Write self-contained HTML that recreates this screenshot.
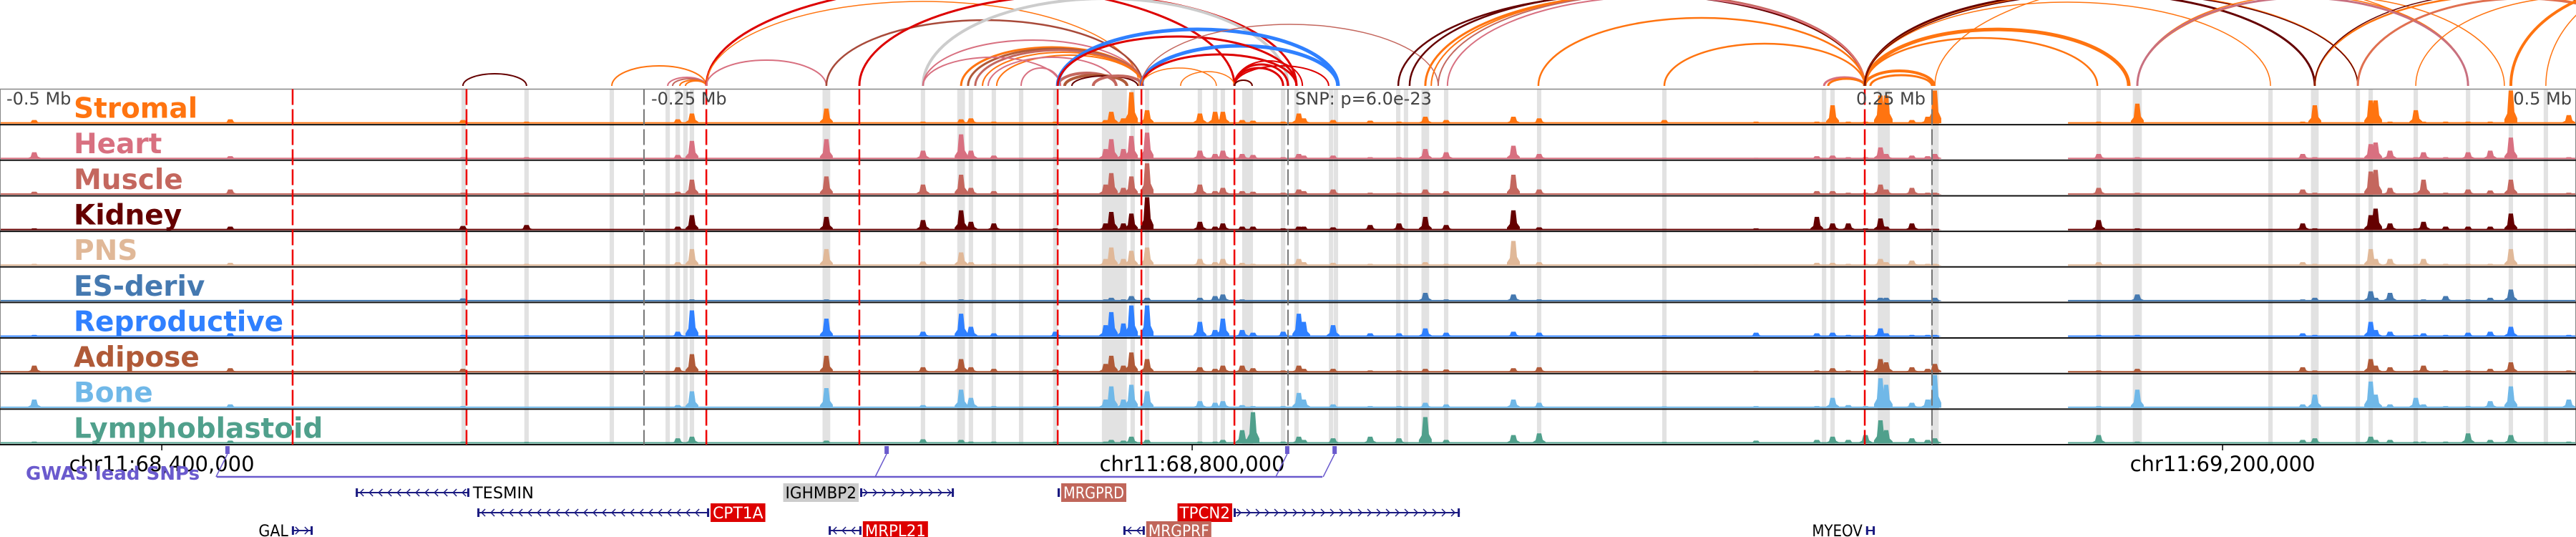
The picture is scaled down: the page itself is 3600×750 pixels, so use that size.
<!DOCTYPE html>
<html><head><meta charset="utf-8"><style>
html,body{margin:0;padding:0;background:#fff;}
svg{display:block;font-family:"DejaVu Sans","Liberation Sans",sans-serif;}
</style></head><body>
<svg id="chart" width="3600" height="750" viewBox="0 0 3600 750" xmlns="http://www.w3.org/2000/svg">
<defs><clipPath id="arcclip"><rect x="0" y="0" width="3600" height="122"/></clipPath></defs>
<g id="arcs" clip-path="url(#arcclip)"></g>
<g id="bands"></g>
<g id="signals"></g>
<g id="frame"></g>
<g id="vlines"></g>
<g id="labels"></g>
<g id="axis"></g>
<g id="gwas"></g>
<g id="genes"></g>
</svg>
<script>
// ---------- data ----------
const trackNames = ["Stromal","Heart","Muscle","Kidney","PNS","ES-deriv","Reproductive","Adipose","Bone","Lymphoblastoid"];
const trackColors = ["#ff7410","#d87080","#c4675e","#650000","#e0b898","#4579b0","#2f80ff","#b05a38","#70b8e8","#50a08c"];
const lociKb = [-486.7,-410.6,-320.3,-295.6,-236.9,-231.4,-179.2,-141.7,-126.9,-123.1,-114.2,-90.3,-70.8,-68.6,-63.9,-60.8,-54.7,-34.2,-28.3,-25.3,-17.8,-13.6,-1.9,4.2,6.1,17.5,31.9,43.1,53.3,61.4,87.5,97.5,146.1,181.7,205.3,211.4,217.5,224.2,230.0,232.2,242.2,248.3,251.1,314.7,329.7,393.9,398.6,420.3,422.2,427.8,437.8,440.8,449.4,458.1,466.7,474.7,497.2];
const stromalVals = [.1,.12,.1,.05,.12,.3,.45,.05,.12,.15,.05,.05,.1,.35,.15,.95,.4,.3,.35,.35,.1,.08,.05,.3,.15,.1,.08,.05,.2,.1,.2,.15,.1,.05,.05,.55,.05,.05,.85,.85,.1,.2,1.0,.05,.6,.05,.55,.7,.7,.05,.4,.05,.05,.05,.05,1.0,.25];
const heartVals = [.2,.08,.05,.05,.12,.55,.6,.25,.75,.25,.1,.05,.3,.6,.3,.7,.8,.25,.15,.25,.15,.12,.05,.15,.1,.1,.05,.05,.3,.2,.4,.15,.03,.03,.08,.1,.05,.05,.35,.15,.1,.08,.15,.15,.05,.15,.05,.45,.5,.25,.05,.2,.05,.2,.25,.65,.05];
const muscleVals = [.08,.15,.05,.05,.08,.45,.55,.3,.6,.2,.1,.05,.3,.65,.2,.55,.95,.3,.1,.2,.1,.08,.05,.15,.1,.15,.05,.05,.15,.1,.6,.15,.03,.03,.1,.1,.05,.05,.3,.15,.2,.05,.05,.2,.05,.15,.05,.7,.75,.2,.05,.45,.05,.15,.12,.45,.05];
const kidneyVals = [.05,.1,.12,.15,.1,.45,.4,.3,.6,.25,.2,.05,.2,.55,.2,.5,1.0,.25,.1,.2,.1,.1,.05,.1,.1,.08,.15,.2,.4,.15,.6,.08,.03,.05,.4,.2,.2,.05,.35,.1,.2,.03,.03,.3,.05,.2,.05,.45,.65,.2,.05,.25,.1,.1,.1,.5,.03];
const pnsVals = [.05,.08,.05,.05,.1,.5,.5,.12,.4,.1,.05,.05,.2,.55,.2,.45,.55,.2,.1,.2,.08,.05,.05,.2,.1,.08,.05,.05,.1,.05,.75,.1,.03,.03,.08,.08,.05,.05,.2,.1,.15,.05,.05,.1,.05,.1,.05,.5,.2,.2,.05,.2,.05,.05,.05,.5,.03];
const esVals = [.03,.02,.08,.02,.03,.05,.05,.02,.05,.03,.03,.02,.05,.1,.05,.15,.1,.1,.15,.2,.05,.03,.02,.02,.02,.02,.02,.02,.25,.05,.2,.05,.02,.02,.02,.03,.03,.02,.1,.1,.03,.02,.1,.02,.2,.05,.1,.3,.1,.25,.03,.05,.15,.05,.1,.35,.03];
const reproVals = [.05,.1,.05,.04,.15,.8,.55,.15,.7,.3,.1,.15,.35,.75,.4,.95,.95,.45,.2,.55,.2,.12,.15,.7,.45,.35,.1,.1,.25,.12,.15,.12,.04,.12,.1,.12,.05,.05,.25,.1,.05,.05,.05,.05,.05,.1,.05,.45,.2,.15,.05,.1,.05,.12,.15,.3,.05];
const adiposeVals = [.2,.12,.1,.03,.15,.55,.5,.15,.4,.15,.1,.08,.25,.5,.2,.6,.4,.15,.1,.2,.2,.12,.05,.2,.1,.1,.05,.05,.1,.08,.12,.15,.04,.04,.05,.12,.05,.05,.4,.3,.15,.1,.25,.05,.1,.15,.05,.4,.2,.15,.05,.2,.05,.05,.1,.3,.05];
const boneVals = [.25,.1,.05,.03,.08,.5,.6,.08,.55,.3,.05,.05,.25,.65,.25,.7,.5,.2,.15,.2,.08,.05,.05,.45,.25,.1,.05,.05,.15,.1,.25,.15,.04,.05,.05,.3,.08,.05,.9,.7,.15,.25,1.0,.05,.55,.1,.4,.8,.4,.1,.3,.1,.05,.05,.2,.65,.25];
const lymphoVals = [.05,.08,.05,.04,.15,.2,.08,.12,.1,.05,.05,.05,.05,.1,.08,.2,.1,.05,.05,.1,.4,.95,.05,.2,.1,.15,.2,.15,.8,.1,.25,.3,.04,.08,.1,.2,.1,.25,.7,.4,.15,.1,.15,.25,.05,.1,.15,.2,.1,.1,.05,.05,.05,.3,.1,.25,.05];
const trackValues = [stromalVals,heartVals,muscleVals,kidneyVals,pnsVals,esVals,reproVals,adiposeVals,boneVals,lymphoVals];
const dataGapKb = [252.8, 302.8];
const bandCentersKb = [-320,-295.6,-262.5,-240.8,-236.9,-233.9,-231.4,-179.2,-141.7,-126.9,-123.1,-114.2,-103.6,-90.3,-67.4,-60.3,-54.7,-34.2,-28.3,-25.3,-15.7,-1.9,3.3,16.7,18.6,42.8,45.8,53.3,61.4,97.5,146.1,208.1,211.4,231.3,251.1,314.7,329.7,381.4,398.6,415.3,420.3,437.8,458.1,474.7,488.3];
const bandWidthsKb = [1.7,1.7,1.7,1.7,1.7,1.7,1.7,3,1.7,3,1.7,1.7,1.7,1.7,9.7,1.7,1.7,1.7,1.7,1.7,4.2,1.7,1.7,1.7,1.7,1.7,1.7,3,1.7,1.7,1.7,1.7,1.7,4.7,3,1.7,3.5,1.7,3,1.7,1.7,1.7,1.7,1.7,1.7];
const redLinesKb = [-386.4,-318.9,-225.8,-166.4,-89.4,-56.9,-20.8,223.9];
const greyLinesKb = [-250, 0, 250];
const arcStartKb = [-320.3,-262.5,-240.8,-238.9,-236.1,-233.9,-225.8,-225.8,-225.8,-179.2,-166.4,-141.7,-141.7,-126.9,-124.2,-121.4,-118.6,-113.1,-116.4,-141.7,-103.6,-89.4,-86.7,-83.9,-75.6,-89.4,-56.9,-89.4,-56.9,-20.8,-20.8,-20.8,-20.8,-56.9,-56.9,-41.7,-20.8,-20.8,42.8,47.2,53.3,55.6,58.3,61.9,97.2,146.1,208.1,209.7,223.9,226.1,223.9,223.9,223.9,251.1,223.9,223.9,223.9,329.7,329.7,398.6,398.6,329.7,415.3,437.8,474.7,488.3];
const arcEndKb = [-295.6,-225.8,-225.8,-225.8,-225.8,-225.8,-20.8,-57.8,-179.2,-56.4,3.3,0,-56.4,-56.4,-56.4,-56.4,-56.4,-56.4,-66.7,-88.3,-88.3,-66.7,-62.5,-58.3,-56.4,19.4,19.4,3.3,3.3,0,-1.9,5.6,15.8,58.3,-27.8,-20.8,-13.9,-13.9,223.9,223.9,223.9,223.9,223.9,223.9,223.9,223.9,223.9,223.9,250.8,250,326.4,314.2,381.4,458.1,398.6,415.3,415.3,458.1,472.2,544.4,544.4,458.1,543,566.7,583.3,583.3];
const arcHeights = [17,28,12,10,8,7,141,118,36,92,127,122,64,54,52,50,47,43,40,40,25,18,15,14,14,79,56,69,44,30,25,35,28,86,25,20,8,8,128,130,128,128,128,125,95,59,12,10,21,15,79,67,117,152,130,131,130,126,126,126,130,123,122,125,140,150];
const arcColors = ["#650000","#ff7410","#d87080","#c4675e","#ff7410","#ff7410","#dd0000","#ff7410","#d87080","#a84a3a","#dd0000","#cccccc","#d87080","#ff7410","#b05a38","#c4675e","#ff7410","#ff7410","#d87080","#d87080","#d87080","#c4675e","#b05a38","#650000","#c4675e","#2f80ff","#2f80ff","#dd0000","#dd0000","#dd0000","#dd0000","#dd0000","#dd0000","#c4675e","#ff7410","#ff7410","#ff7410","#650000","#650000","#650000","#ff7410","#ff7410","#c4675e","#d87080","#ff7410","#ff7410","#d87080","#ff7410","#ff7410","#ff7410","#ff7410","#ff7410","#ff7410","#ff7410","#650000","#ff7410","#650000","#ff7410","#ff7410","#ff7410","#650000","#c87080","#e07050","#ff7410","#ff7410","#ff7410"];
const arcWidths = [2,2,2,2,2,2,3,1.5,2,2.5,3,4,2,3,3,3,2,2,2,2,2,4,4,2,4,5,5,3,3,3,3,2,2,1.5,1.5,1.5,2,2,2.5,2.5,3,2,2,2,2.5,2.5,3,3,4,3,5,2.5,1.5,1.5,3,2,1.5,1.5,1.5,2.5,1.5,3,3,1.5,4,1.5];
const tickPositions = [68400000, 68800000, 69200000];
const tickLabels = ["chr11:68,400,000","chr11:68,800,000","chr11:69,200,000"];
const centerPos = 68837200;
const gwasSnpKb = [-411.7,-155.8,-0.3,18.1];
const geneNames = ["TESMIN","IGHMBP2","MRGPRD","CPT1A","TPCN2","GAL","MRPL21","MRGPRF","MYEOV"];
const geneStartKb = [-361.9,-166.1,-89.4,-314.7,-21.1,-386.7,-178.3,-63.9,224.4];
const geneEndKb = [-317.8,-129.7,-88.6,-224.7,66.7,-378.6,-165.6,-55.6,227.8];
const geneStrand = [-1,1,1,-1,1,1,-1,-1,1];
const geneRow = [0,0,0,1,1,2,2,2,2];
const geneStyle = ["plain","grey","brown","red","red","plain","red","brown","plain"];
const geneLabelSide = ["right","left","right","right","left","left","right","right","left"];

// ---------- helpers ----------
const NS = "http://www.w3.org/2000/svg";
function mk(tag, attrs, parent){const e=document.createElementNS(NS,tag);for(const k in attrs)e.setAttribute(k,attrs[k]);parent.appendChild(e);return e;}
const xScale = kb => 1800 + kb*3.6;
const posScale = p => 1800 + (p-centerPos)/1000*3.6;
const TRACK_TOP = 124.5, TRACK_H = 49.65;
const trackTop = i => TRACK_TOP + i*TRACK_H;
const yScale = (i, v) => trackTop(i+1) - 2 - v*(TRACK_H-4);

// ---------- arcs ----------
const gArcs = document.getElementById('arcs');
for (let i=0;i<arcStartKb.length;i++){
  const x1 = xScale(arcStartKb[i]), x2 = xScale(arcEndKb[i]);
  const rx = Math.abs(x2-x1)/2, y0 = 120;
  const p = mk('path',{d:`M${x1},${y0} A${rx},${arcHeights[i]} 0 0 1 ${x2},${y0}`,fill:'none',stroke:arcColors[i],'stroke-width':arcWidths[i]},gArcs);
  
  
}

// ---------- bands ----------
const gBands = document.getElementById('bands');
for (let i=0;i<bandCentersKb.length;i++){
  const w = bandWidthsKb[i]*3.6;
  const r = mk('rect',{x:xScale(bandCentersKb[i])-w/2,y:TRACK_TOP,width:w,height:TRACK_H*10,fill:'#e2e2e2'},gBands);
  
  
}

// ---------- signals ----------
const gSig = document.getElementById('signals');
for (let t=0;t<trackNames.length;t++){
  const g = mk('g',{},gSig);
  
  
  const base = yScale(t,0);
  mk('rect',{x:0,y:base-1.5,width:xScale(dataGapKb[0]),height:2,fill:trackColors[t]},g);
  mk('rect',{x:xScale(dataGapKb[1]),y:base-1.5,width:3600-xScale(dataGapKb[1]),height:2,fill:trackColors[t]},g);
  const vals = trackValues[t];
  for (let j=0;j<lociKb.length;j++){
    const x = xScale(lociKb[j]); const top = yScale(t, vals[j]); const h = base-top;
    const pts = [[x-9,base],[x-9,base-h*0.12],[x-5,base-h*0.3],[x-3,top],[x+3,top],[x+5,base-h*0.35],[x+9,base-h*0.15],[x+9,base]];
    const pk = mk('polygon',{points:pts.map(p=>p.join(',')).join(' '),fill:trackColors[t]},g);
    
    
  }
}

// ---------- frame ----------
const gFrame = document.getElementById('frame');
mk('line',{x1:0,y1:TRACK_TOP,x2:3600,y2:TRACK_TOP,stroke:'#888','stroke-width':1.5},gFrame);
mk('line',{x1:0.5,y1:TRACK_TOP,x2:0.5,y2:trackTop(10),stroke:'#888','stroke-width':1},gFrame);
mk('line',{x1:3599.5,y1:TRACK_TOP,x2:3599.5,y2:trackTop(10),stroke:'#888','stroke-width':1},gFrame);
for (let i=1;i<=10;i++) mk('line',{x1:0,y1:trackTop(i),x2:3600,y2:trackTop(i),stroke:'#111','stroke-width':2},gFrame);

// ---------- vertical lines ----------
const gV = document.getElementById('vlines');
for (const kb of greyLinesKb){
  const l = mk('line',{x1:xScale(kb),y1:TRACK_TOP,x2:xScale(kb),y2:trackTop(10),stroke:'#777','stroke-width':2,'stroke-dasharray':'22 6'},gV);
  
  
}
for (const kb of redLinesKb){
  const l = mk('line',{x1:xScale(kb),y1:TRACK_TOP,x2:xScale(kb),y2:trackTop(10),stroke:'#ee0000','stroke-width':2.5,'stroke-dasharray':'22 6'},gV);
  
  
}

// ---------- labels ----------
const gL = document.getElementById('labels');
for (let t=0;t<trackNames.length;t++){
  const tx = mk('text',{x:103,y:trackTop(t)+40,fill:trackColors[t],'font-size':39,'font-weight':'bold'},gL);
  tx.textContent = trackNames[t];
  
  
}
const mbLabels = [["-0.5 Mb",9,"start"],["-0.25 Mb",910,"start"],["0.25 Mb",2691,"end"],["0.5 Mb",3594,"end"],["SNP: p=6.0e-23",1810,"start"]];
for (const m of mbLabels){
  const tx = mk('text',{x:m[1],y:146,fill:'#444','font-size':24,'text-anchor':m[2]},gL);
  tx.textContent = m[0];
  
  
}

// ---------- axis ----------
const gA = document.getElementById('axis');
for (let i=0;i<tickPositions.length;i++){
  const x = posScale(tickPositions[i]);
  mk('line',{x1:x,y1:trackTop(10),x2:x,y2:trackTop(10)+8,stroke:'#000','stroke-width':1.5},gA);
  const tx = mk('text',{x:x,y:658,'font-size':29,'text-anchor':'middle',fill:'#000'},gA);
  tx.textContent = tickLabels[i];
  
  
}

// ---------- GWAS ----------
const gG = document.getElementById('gwas');
const gwasLabel = mk('text',{x:36,y:670,'font-size':26,'font-weight':'bold',fill:'#6a5acd'},gG);
gwasLabel.textContent = 'GWAS lead SNPs';


const snpXs = gwasSnpKb.map(xScale);
mk('line',{x1:snpXs[0]-15,y1:666,x2:snpXs[snpXs.length-1]-17,y2:666,stroke:'#6a5acd','stroke-width':2.5},gG);
for (const x of snpXs){
  const r = mk('rect',{x:x-3,y:623,width:6,height:11,fill:'#6a5acd'},gG);
  
  
  mk('line',{x1:x,y1:634,x2:x-16,y2:666,stroke:'#6a5acd','stroke-width':1.5},gG);
}

// ---------- genes ----------
const gGenes = document.getElementById('genes');
const rowY = [688,716,741];
const styleFill = {plain:'none',grey:'#cccccc',brown:'#c0665a',red:'#dd0000'};
const styleText = {plain:'#000',grey:'#000',brown:'#fff',red:'#fff'};
for (let i=0;i<geneNames.length;i++){
  const g = mk('g',{},gGenes);
  
  
  const x1 = xScale(geneStartKb[i]), x2 = xScale(geneEndKb[i]), y = rowY[geneRow[i]];
  mk('line',{x1:x1,y1:y,x2:x2,y2:y,stroke:'#1a1a80','stroke-width':2},g);
  mk('rect',{x:x1,y:y-6,width:3,height:12,fill:'#1a1a80'},g);
  mk('rect',{x:x2-3,y:y-6,width:3,height:12,fill:'#1a1a80'},g);
  for (let x=x1+8;x<x2-5;x+=13){
    const d = geneStrand[i]>0 ? `M${x-3},${y-5} L${x+2},${y} L${x-3},${y+5}` : `M${x+3},${y-5} L${x-2},${y} L${x+3},${y+5}`;
    mk('path',{d:d,fill:'none',stroke:'#1a1a80','stroke-width':1.5},g);
  }
  const name = geneNames[i];
  const tw = name.length*14.5+4;
  const lx = geneLabelSide[i]==='right' ? x2+2 : x1-2-tw;
  if (styleFill[geneStyle[i]]!=='none') mk('rect',{x:lx,y:y-13,width:tw,height:26,fill:styleFill[geneStyle[i]]},g);
  const tx = mk('text',{x:lx+tw/2,y:y+8,'font-size':22,'text-anchor':'middle',fill:styleText[geneStyle[i]],textLength:tw-6,lengthAdjust:'spacingAndGlyphs'},g);
  tx.textContent = name;
}
</script>
</body></html>
